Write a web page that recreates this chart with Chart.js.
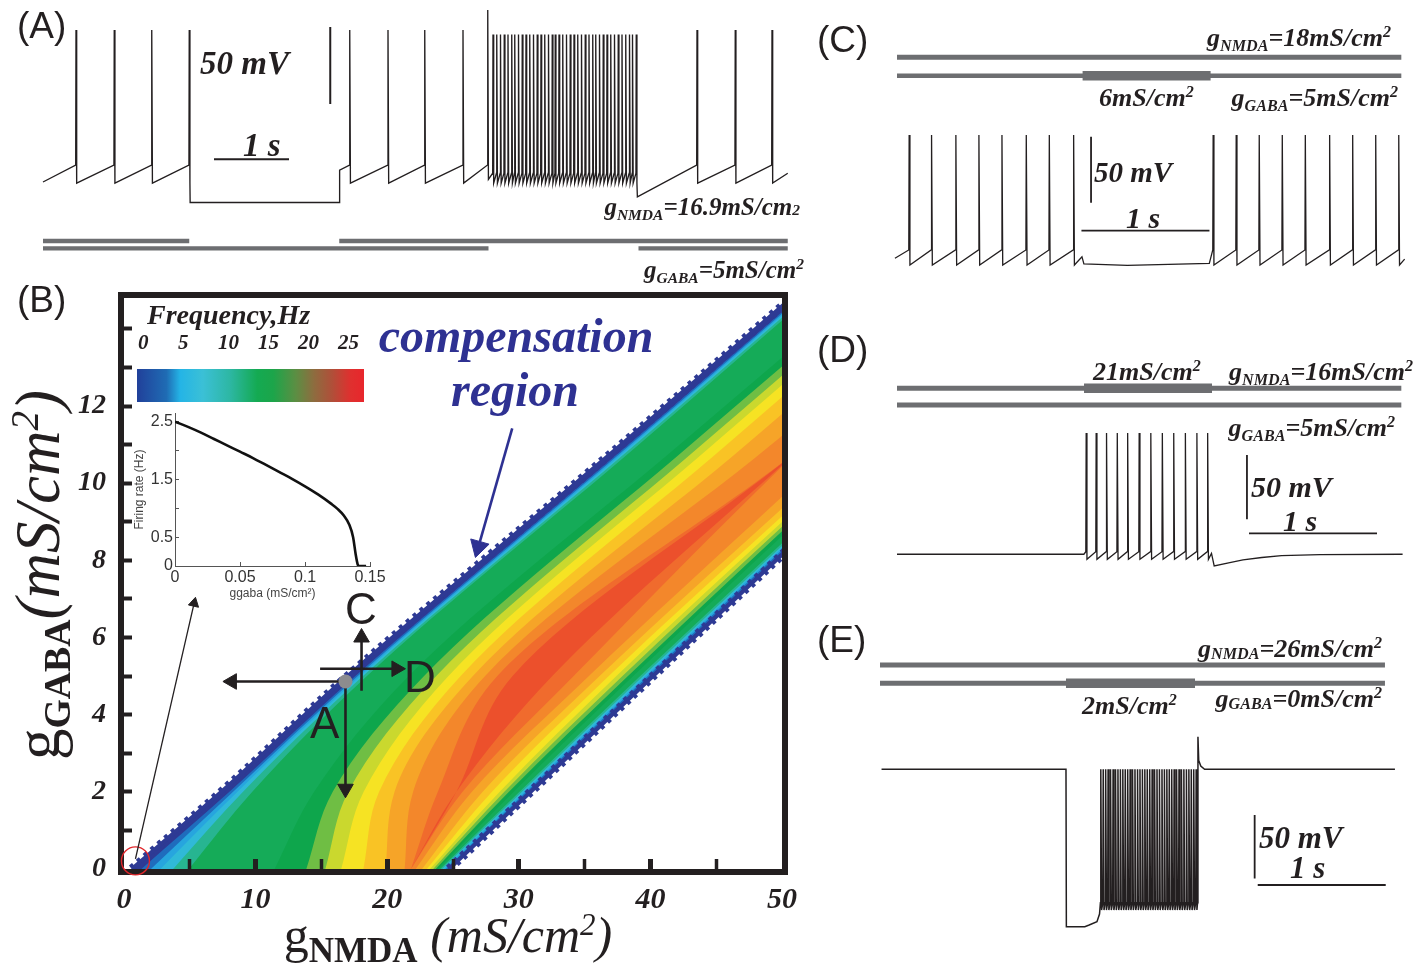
<!DOCTYPE html>
<html>
<head>
<meta charset="utf-8">
<title>Compensation region</title>
<script src="https://cdn.jsdelivr.net/npm/chart.js@4.4.1/dist/chart.umd.min.js"></script>
<style>
  html, body { margin: 0; padding: 0; background: #fff; }
  #fig { position: relative; width: 1424px; height: 964px; overflow: hidden; background: #fff; }
  #fig canvas { position: absolute; }
  .t { position: absolute; white-space: nowrap; line-height: 1; color: #231f20; }
  .bi { font-family: "Liberation Serif", serif; font-weight: bold; font-style: italic; }
  .sa { font-family: "Liberation Sans", Arial, sans-serif; }
  .rm { font-family: "Liberation Serif", serif; }
  .nv { color: #2e3192; }
  .t sub, .t sup { line-height: 0; font-size: 0.62em; }
  .t sub { vertical-align: -0.32em; }
  .t sup { vertical-align: 0.55em; }
  #cbar { position: absolute; left: 137px; top: 369px; width: 227px; height: 33px;
    background: linear-gradient(to right, #21409a 0%, #1f6cb4 13%, #24b4e6 19%, #3bc0d6 29%, #2db7a3 41%,
      #14aa52 53%, #1ca54a 60%, #5c8e43 70%, #8e6c3f 78%, #b04f39 86%, #df302f 94%, #e8262c 100%); }
</style>
</head>
<body>
<div id="fig"></div>
<script>
Chart.defaults.font.family = '"Liberation Sans", Arial, sans-serif';
Chart.defaults.color = '#231f20';
const fig = document.getElementById('fig');
const INK = '#231f20';
const BAR = '#6d6e71';

// ---------------- panel A (gNMDA 16.9, gGABA 5) : time in s, potential in mV
const spikesA1 = [0.44, 0.95, 1.45, 1.95];
const spikesA2 = [4.09, 4.6, 5.09, 5.6];
const bigSpikeA = [5.93];
const burstA = [6.00, 6.05, 6.10, 6.15, 6.20, 6.25, 6.29, 6.34, 6.39, 6.44, 6.49, 6.54, 6.59, 6.64,
  6.69, 6.74, 6.79, 6.83, 6.88, 6.93, 6.98, 7.03, 7.08, 7.13, 7.18, 7.23, 7.28, 7.33, 7.37, 7.42,
  7.47, 7.52, 7.57, 7.62, 7.67, 7.72, 7.77, 7.82, 7.86, 7.91];
const spikesA3 = [8.72, 9.23, 9.72];
const nmdaOnA = [[0, 1.95], [3.95, 9.93]];
const gabaOnA = [[0, 5.94], [7.94, 9.93]];

// ---------------- panel C (GABA step 5 -> 6)
const spikesC1 = [0.095, 0.27, 0.46, 0.64, 0.82, 1.01, 1.19, 1.38];
const spikesC2 = [2.47, 2.65, 2.83, 3.01, 3.19, 3.38, 3.56, 3.74, 3.92];
const nmdaOnC = [[0, 3.94]];
const gabaOnC = [[0, 3.94]];
const gabaStepC = [[1.45, 2.45]];

// ---------------- panel D (NMDA step 16 -> 21)
const spikesD = [1.478, 1.556, 1.637, 1.721, 1.802, 1.892, 1.983, 2.073, 2.162, 2.253, 2.343, 2.427];
const nmdaOnD = [[0, 3.94]];
const nmdaStepD = [[1.461, 2.461]];
const gabaOnD = [[0, 3.94]];

// ---------------- panel E (GABA step 0 -> 2)
const burstE = [1.725, 1.744, 1.763, 1.782, 1.801, 1.821, 1.840, 1.859, 1.878, 1.897, 1.916, 1.935,
  1.954, 1.973, 1.992, 2.012, 2.031, 2.050, 2.069, 2.088, 2.107, 2.126, 2.145, 2.164, 2.183, 2.203,
  2.222, 2.241, 2.260, 2.279, 2.298, 2.317, 2.336, 2.355, 2.374, 2.394, 2.413, 2.432, 2.451, 2.470];
const nmdaOnE = [[0, 3.945]];
const gabaOnE = [[0, 3.945]];
const gabaStepE = [[1.453, 2.461]];

// ---------------- panel B : firing frequency map (contours)
const bandRows = [0, 2, 5, 11, 15];               // gGABA of the rows that were read
const bandUpper = [0.6, 7.4, 17.0, 37.8, 51.4];   // gNMDA where firing starts
const bandLower = [24.7, 30.9, 40.2, 58.9, 71.3]; // gNMDA where firing stops
const freqLevels = [0, 2, 4, 6, 8, 10, 12, 13.5, 15, 16.5, 18, 19.5, 21, 22.5, 24];
const levelColors = ['#2e3a94', '#1f6cbd', '#27a5de', '#30b9d8', '#27b591', '#15ab58', '#0ea64c',
  '#6fbe44', '#cad82e', '#f6e323', '#f9c325', '#f6a428', '#f3872b', '#f06b2d', '#ec502c'];
// fraction of the band width (0 = upper edge, 1 = lower edge) where each level is reached / left
const enter0  = [0, 0.03, 0.06, 0.09, 0.13, 0.18, 0.45, 0.55, 0.61, 0.66, 0.73, 0.8, 0.86, 0.88, 0.88];
const enter2  = [0, 0.026, 0.038, 0.052, 0.07, 0.1, 0.3, 0.36, 0.41, 0.46, 0.51, 0.56, 0.62, 0.7, 0.76];
const enter5  = [0, 0.025, 0.033, 0.041, 0.05, 0.063, 0.2, 0.25, 0.29, 0.33, 0.37, 0.41, 0.45, 0.49, 0.54];
const enter11 = [0, 0.025, 0.033, 0.041, 0.05, 0.063, 0.21, 0.25, 0.29, 0.33, 0.38, 0.45, 0.54, 0.66, 0.66];
const enter15 = [0, 0.025, 0.033, 0.041, 0.05, 0.063, 0.23, 0.27, 0.31, 0.35, 0.4, 0.47, 0.58, 0.66, 0.66];
const leave0  = [1, 0.995, 0.99, 0.985, 0.978, 0.972, 0.965, 0.958, 0.95, 0.94, 0.93, 0.915, 0.895, 0.88, 0.88];
const leave2  = [1, 0.992, 0.986, 0.98, 0.972, 0.964, 0.945, 0.93, 0.915, 0.9, 0.875, 0.845, 0.81, 0.78, 0.76];
const leave5  = [1, 0.99, 0.983, 0.976, 0.968, 0.958, 0.935, 0.918, 0.9, 0.88, 0.855, 0.825, 0.79, 0.74, 0.67];
const leave11 = [1, 0.99, 0.983, 0.976, 0.968, 0.958, 0.93, 0.912, 0.897, 0.88, 0.86, 0.83, 0.78, 0.66, 0.66];
const leave15 = [1, 0.99, 0.983, 0.976, 0.968, 0.958, 0.93, 0.912, 0.897, 0.88, 0.86, 0.83, 0.76, 0.66, 0.66];
const enterTable = [enter0, enter2, enter5, enter11, enter15];
const leaveTable = [leave0, leave2, leave5, leave11, leave15];

// operating point A and the marker at the origin (gNMDA, gGABA)
const pointA = [16.83, 4.86];
const circleA = [0.87, 0.21];

// ---------------- inset : firing rate vs ggaba
const ggabaX = [0, 0.01, 0.02, 0.03, 0.04, 0.05, 0.06, 0.07, 0.08, 0.09, 0.1, 0.11, 0.12, 0.125,
  0.13, 0.134, 0.137, 0.139, 0.1405, 0.1415, 0.147];
const rateY = [2.5, 2.41, 2.31, 2.2, 2.09, 1.98, 1.87, 1.75, 1.63, 1.51, 1.38, 1.24, 1.08, 0.99,
  0.87, 0.72, 0.5, 0.2, 0.03, 0, 0];

// ----------------------------------------------------------------------------
function buildTrace(pieces, rise, fall) {
  const pts = [];
  pieces.forEach(p => {
    if (Array.isArray(p)) { pts.push({x: p[0], y: p[1]}); return; }
    p.t.forEach(t => {
      pts.push({x: t - rise, y: p.thr});
      pts.push({x: t, y: p.peak});
      pts.push({x: t + fall, y: p.trough});
    });
  });
  return pts;
}

function barPoints(intervals, level) {
  const pts = [];
  intervals.forEach(([a, b], i) => {
    if (i) pts.push({x: a, y: null});
    pts.push({x: a, y: level}, {x: b, y: level});
  });
  return pts;
}

function line(data, color, width) {
  return {data, borderColor: color, borderWidth: width, pointRadius: 0, fill: false,
    borderCapStyle: 'butt', tension: 0};
}

function addCanvas(left, top, w, h) {
  const c = document.createElement('canvas');
  c.width = w; c.height = h;
  c.style.left = left + 'px'; c.style.top = top + 'px';
  fig.appendChild(c);
  return c;
}

// cal = [px of t=0, px per s, reference mV, px of reference mV, px per mV]
function traceChart(box, cal, datasets) {
  const [left, top, w, h] = box;
  const [x0, kx, vRef, yRef, ky] = cal;
  return new Chart(addCanvas(left, top, w, h), {
    type: 'line',
    data: {datasets},
    options: {
      responsive: false, animation: false, devicePixelRatio: 1, events: [],
      layout: {padding: 0},
      plugins: {legend: {display: false}, tooltip: {enabled: false}},
      scales: {
        x: {type: 'linear', display: false, min: (left - x0) / kx, max: (left + w - x0) / kx},
        y: {type: 'linear', display: false, min: vRef - (top + h - yRef) / ky, max: vRef + (yRef - top) / ky}
      }
    }
  });
}

// ---------------- voltage traces
const lvA = {peak: 30, thr: -57.7, trough: -69.4};
const traceA = buildTrace([
  [0, -68.7],
  {t: spikesA1, ...lvA},
  [1.962, -82], [3.95, -82], [3.955, -61],
  {t: spikesA2, ...lvA},
  {t: bigSpikeA, peak: 43, thr: -57.7, trough: -67},
  {t: burstA, peak: 27, thr: -63, trough: -69.4},
  [7.925, -78.4],
  {t: spikesA3, ...lvA},
  [9.93, -63]
], 0.004, 0.009);

const lvC = {peak: 30, thr: -57.1, trough: -68.5};
const traceC = buildTrace([
  [-0.016, -63.4],
  {t: spikesC1, ...lvC},
  [1.445, -62.2], [1.46, -67.7], [1.8, -68.8], [2.44, -67.2],
  {t: spikesC2, ...lvC},
  [3.966, -64]
], 0.003, 0.006);

const traceD = buildTrace([
  [0, -64], [1.46, -64],
  {t: spikesD, peak: 30, thr: -62, trough: -67.9},
  [2.457, -63.3], [2.478, -73.1], [2.6, -70.5], [2.703, -68.4], [2.85, -66.5],
  [3.004, -65.1], [3.305, -64.3], [3.95, -64]
], 0.003, 0.006);

const traceE = buildTrace([
  [0.012, 25], [1.453, 25], [1.456, -98.9], [1.6, -98.9], [1.634, -97.6], [1.695, -95], [1.715, -89],
  {t: burstE, peak: 25, thr: -80, trough: -85.8},
  {t: [2.484], peak: 50.7, thr: -80, trough: 32},
  [2.506, 27.5], [2.536, 25], [4.023, 25]
], 0.003, 0.006);

traceChart([0, 0, 810, 300], [43, 75, 30, 30, 1.54], [
  line(traceA, INK, 1.35),
  line(barPoints(nmdaOnA, -107), BAR, 4.4),
  line(barPoints(gabaOnA, -111.8), BAR, 4.4),
  line([{x: 3.83, y: 32}, {x: 3.83, y: -18}], INK, 2),
  line([{x: 2.28, y: -54}, {x: 3.28, y: -54}], INK, 2)
]);

traceChart([860, 0, 564, 300], [897, 128, 30, 135, 1.32], [
  line(traceC, INK, 1.3),
  line(barPoints(nmdaOnC, 88.9), BAR, 5),
  line(barPoints(gabaOnC, 74.9), BAR, 4.3),
  line(barPoints(gabaStepC, 74.9), BAR, 9.5),
  line([{x: 1.516, y: 28.7}, {x: 1.516, y: -21.3}], INK, 1.8),
  line([{x: 1.441, y: -42.5}, {x: 2.441, y: -42.5}], INK, 1.8)
]);

traceChart([860, 320, 564, 280], [897, 128, 30, 433, 1.29], [
  line(traceD, INK, 1.3),
  line(barPoints(nmdaOnD, 64.7), BAR, 5),
  line(barPoints(nmdaStepD, 64.7), BAR, 9.5),
  line(barPoints(gabaOnD, 51.7), BAR, 5),
  line([{x: 2.734, y: 12.9}, {x: 2.734, y: -36.9}], INK, 1.8),
  line([{x: 2.75, y: -47.8}, {x: 3.75, y: -47.8}], INK, 1.8)
]);

traceChart([860, 610, 564, 354], [880, 128, 25, 769.3, 1.27], [
  line(traceE, INK, 1.5),
  line(barPoints(nmdaOnE, 107.1), BAR, 5),
  line(barPoints(gabaOnE, 92.7), BAR, 5),
  line(barPoints(gabaStepE, 92.7), BAR, 9.5),
  line([{x: 2.927, y: -11}, {x: 2.927, y: -61}], INK, 1.8),
  line([{x: 2.951, y: -66.1}, {x: 3.951, y: -66.1}], INK, 1.8)
]);

// ---------------- panel B map
function contourPts(table, k) {
  return bandRows.map((g, r) => ({x: bandUpper[r] + table[r][k] * (bandLower[r] - bandUpper[r]), y: g}));
}

function arrow(pts, head, rot, color, width, r) {
  return {data: pts, borderColor: color, borderWidth: width, fill: false,
    pointRadius: pts.map((p, i) => i === head ? r : 0), pointStyle: 'triangle', pointRotation: rot,
    pointBackgroundColor: color, pointBorderColor: color, pointBorderWidth: 1};
}

const smooth = {pointRadius: 0, cubicInterpolationMode: 'monotone', capBezierPoints: false};

const dsB = [
  {data: [{x: pointA[0], y: pointA[1]}], showLine: false, pointRadius: 7, pointBackgroundColor: '#8c8c8e',
    pointBorderWidth: 0},
  arrow([{x: 8.2, y: pointA[1]}, {x: pointA[0], y: pointA[1]}], 0, 270, INK, 2.6, 9),
  arrow([{x: pointA[0], y: 2.08}, {x: pointA[0], y: pointA[1]}], 0, 180, INK, 2.6, 9),
  arrow([{x: 18.05, y: 4.62}, {x: 18.05, y: 6.0}], 1, 0, INK, 2.6, 9),
  arrow([{x: 14.9, y: 5.19}, {x: 20.7, y: 5.19}], 1, 90, INK, 2.6, 9),
  arrow([{x: 26.93, y: 8.35}, {x: 29.5, y: 11.42}], 0, 195.8, '#2e3192', 2.6, 11),
  arrow([{x: 0.87, y: 0.26}, {x: 5.33, y: 6.89}], 1, 12.9, INK, 1.3, 6),
  {data: [{x: circleA[0], y: circleA[1]}], showLine: false, pointRadius: 14, pointBackgroundColor: 'rgba(0,0,0,0)',
    pointBorderColor: '#e1262b', pointBorderWidth: 1.4, clip: false}
];
// serrated dark-blue rims on both edges of the firing band
[enterTable, leaveTable].forEach(tb => {
  dsB.push(Object.assign({data: contourPts(tb, 0), borderColor: levelColors[0], borderWidth: 4, fill: false}, smooth));
  dsB.push(Object.assign({data: contourPts(tb, 0), borderColor: levelColors[0], borderWidth: 9,
    borderDash: [4, 5], borderCapStyle: 'butt', fill: false}, smooth));
});
for (let k = freqLevels.length - 1; k >= 0; k--) {
  dsB.push(Object.assign({data: contourPts(enterTable, k), borderWidth: 0, fill: false}, smooth));
  dsB.push(Object.assign({data: contourPts(leaveTable, k), borderWidth: 0, fill: dsB.length - 1,
    backgroundColor: levelColors[k]}, smooth));
}

const framePlugin = {
  id: 'frame',
  beforeDatasetsDraw(chart) {
    const {ctx, chartArea: a} = chart;
    ctx.save();
    ctx.strokeStyle = INK;
    ctx.lineWidth = 6;
    ctx.strokeRect(a.left - 3, a.top - 3, a.right - a.left + 6, a.bottom - a.top + 6);
    ctx.restore();
  }
};

const serifBI = {family: '"Liberation Serif", serif', size: 30, weight: 'bold', style: 'italic'};
const clear = 'rgba(0,0,0,0)';

new Chart(addCanvas(0, 280, 800, 680), {
  type: 'line',
  data: {datasets: dsB},
  plugins: [framePlugin],
  options: {
    indexAxis: 'y',
    responsive: false, animation: false, devicePixelRatio: 1, events: [],
    layout: {padding: {left: 0, right: 18, top: 18, bottom: 0}},
    plugins: {legend: {display: false}, tooltip: {enabled: false}},
    scales: {
      x: {
        type: 'linear', position: 'bottom', min: 0, max: 50,
        border: {display: false},
        grid: {drawOnChartArea: false, drawTicks: true, tickLength: -10, z: 1,
          tickColor: c => (c.tick && (c.tick.value === 0 || c.tick.value === 50)) ? clear : INK,
          tickWidth: c => (c.tick && c.tick.value % 10 === 0) ? 5 : 3.5},
        ticks: {stepSize: 5, autoSkip: false, includeBounds: false, maxRotation: 0, padding: 23,
          font: serifBI, color: INK, callback: v => v % 10 === 0 ? String(v) : ''},
        afterFit: s => { s.height = 91; s.paddingLeft = 0; s.paddingRight = 0; }
      },
      y: {
        type: 'linear', position: 'left', min: 0, max: 14.8,
        border: {display: false},
        grid: {drawOnChartArea: false, drawTicks: true, tickLength: -8, z: 1, tickWidth: 4,
          tickColor: c => (c.tick && c.tick.value === 0) ? clear : INK},
        ticks: {stepSize: 1, autoSkip: false, includeBounds: false, padding: 26,
          font: Object.assign({}, serifBI, {size: 28}), color: INK,
          callback: v => (v % 2 === 0 && v <= 12) ? String(v) : ''},
        afterFit: s => { s.width = 124; s.paddingTop = 0; s.paddingBottom = 0; }
      }
    }
  }
});

// ---------------- inset chart
new Chart(addCanvas(130, 405, 262, 205), {
  type: 'line',
  data: {datasets: [{data: ggabaX.map((x, i) => ({x, y: rateY[i]})), borderColor: '#111', borderWidth: 2.6,
    pointRadius: 0, cubicInterpolationMode: 'monotone', fill: false}]},
  options: {
    responsive: false, animation: false, devicePixelRatio: 1, events: [],
    layout: {padding: {top: 8, right: 22, left: 0, bottom: 0}},
    plugins: {legend: {display: false}, tooltip: {enabled: false}},
    scales: {
      x: {
        type: 'linear', min: 0, max: 0.15,
        border: {color: '#555', width: 1},
        grid: {drawOnChartArea: false, tickLength: -4, tickColor: '#555'},
        ticks: {stepSize: 0.05, autoSkip: false, padding: 6, color: '#333', font: {size: 16},
          callback: v => String(+v.toFixed(2))},
        title: {display: true, text: 'ggaba (mS/cm²)', color: '#444', font: {size: 12}, padding: {top: 0, bottom: 9}},
        afterFit: s => { s.height = 44; s.paddingLeft = 0; s.paddingRight = 0; }
      },
      y: {
        type: 'linear', min: 0, max: 2.65,
        border: {color: '#555', width: 1},
        grid: {drawOnChartArea: false, tickLength: -4, tickColor: '#555'},
        ticks: {stepSize: 0.5, autoSkip: false, includeBounds: false, padding: 6, color: '#333', font: {size: 16},
          callback: v => [0, 0.5, 1.5, 2.5].includes(+v.toFixed(2)) ? String(+v.toFixed(2)) : ''},
        title: {display: true, text: 'Firing rate (Hz)', color: '#444', font: {size: 12}, padding: {top: 2, bottom: 0}},
        afterFit: s => { s.width = 45; s.paddingTop = 0; s.paddingBottom = 0; }
      }
    }
  }
});

// ---------------- text
function txt(html, x, base, size, cls, align) {
  const d = document.createElement('div');
  d.className = 't ' + cls;
  d.style.fontSize = size + 'px';
  d.innerHTML = html;
  d.style.top = (base - 0.84 * size) + 'px';
  if (align === 'r') d.style.right = (1424 - x) + 'px';
  else if (align === 'c') { d.style.left = x + 'px'; d.style.transform = 'translateX(-50%)'; }
  else d.style.left = x + 'px';
  fig.appendChild(d);
  return d;
}

const cbar = document.createElement('div');
cbar.id = 'cbar';
fig.appendChild(cbar);

// A
txt('(A)', 17, 38, 37, 'sa');
txt('50 mV', 200, 75, 33, 'bi');
txt('1 s', 243, 157, 33, 'bi');
txt('g<sub>NMDA</sub>=16.9mS/cm<span style="font-size:0.62em">2</span>', 800, 215, 25, 'bi', 'r');
txt('g<sub>GABA</sub>=5mS/cm<sup>2</sup>', 804, 278, 25, 'bi', 'r');

// B
txt('(B)', 17, 312, 37, 'sa');
txt('Frequency,Hz', 147, 325, 28, 'bi');
[['0', 138], ['5', 178], ['10', 218], ['15', 258], ['20', 298], ['25', 338]].forEach(([s, x]) => txt(s, x, 350, 21, 'bi'));
txt('compensation', 516, 352, 48, 'bi nv', 'c');
txt('region', 515, 406, 48, 'bi nv', 'c');
txt('A', 310, 738, 44, 'sa');
txt('C', 345, 624, 44, 'sa');
txt('D', 404, 692, 44, 'sa');
txt('<span>g</span><span style="font-size:0.7em;font-weight:bold;vertical-align:-0.28em">NMDA</span>' +
    '<span style="font-style:italic"> (mS/cm<sup>2</sup>)</span>', 448, 952, 50, 'rm', 'c');
const yt = txt('<span>g</span><span style="font-size:0.6em;font-weight:bold;vertical-align:-0.28em">GABA</span>' +
    '<span style="font-style:italic">(mS/cm<sup>2</sup>)</span>', 0, 0, 63, 'rm');
yt.style.left = '42px'; yt.style.top = '575px';
yt.style.transform = 'translate(-50%, -50%) rotate(-90deg)';

// C
txt('(C)', 817, 52, 37, 'sa');
txt('g<sub>NMDA</sub>=18mS/cm<sup>2</sup>', 1391, 47, 26, 'bi', 'r');
txt('6mS/cm<sup>2</sup>', 1099, 107, 26, 'bi');
txt('g<sub>GABA</sub>=5mS/cm<sup>2</sup>', 1398, 107, 26, 'bi', 'r');
txt('50 mV', 1094, 182, 29, 'bi');
txt('1 s', 1126, 228, 30, 'bi');

// D
txt('(D)', 817, 362, 37, 'sa');
txt('21mS/cm<sup>2</sup>', 1093, 381, 26, 'bi');
txt('g<sub>NMDA</sub>=16mS/cm<sup>2</sup>', 1413, 381, 26, 'bi', 'r');
txt('g<sub>GABA</sub>=5mS/cm<sup>2</sup>', 1395, 437, 26, 'bi', 'r');
txt('50 mV', 1251, 497, 30, 'bi');
txt('1 s', 1283, 531, 30, 'bi');

// E
txt('(E)', 817, 652, 37, 'sa');
txt('g<sub style="vertical-align:-0.1em">NMDA</sub>=26mS/cm<sup>2</sup>', 1382, 658, 26, 'bi', 'r');
txt('2mS/cm<sup>2</sup>', 1082, 715, 26, 'bi');
txt('g<sub style="vertical-align:-0.1em">GABA</sub>=0mS/cm<sup>2</sup>', 1382, 708, 26, 'bi', 'r');
txt('50 mV', 1259, 848, 31, 'bi');
txt('1 s', 1290, 878, 31, 'bi');
</script>
</body>
</html>
